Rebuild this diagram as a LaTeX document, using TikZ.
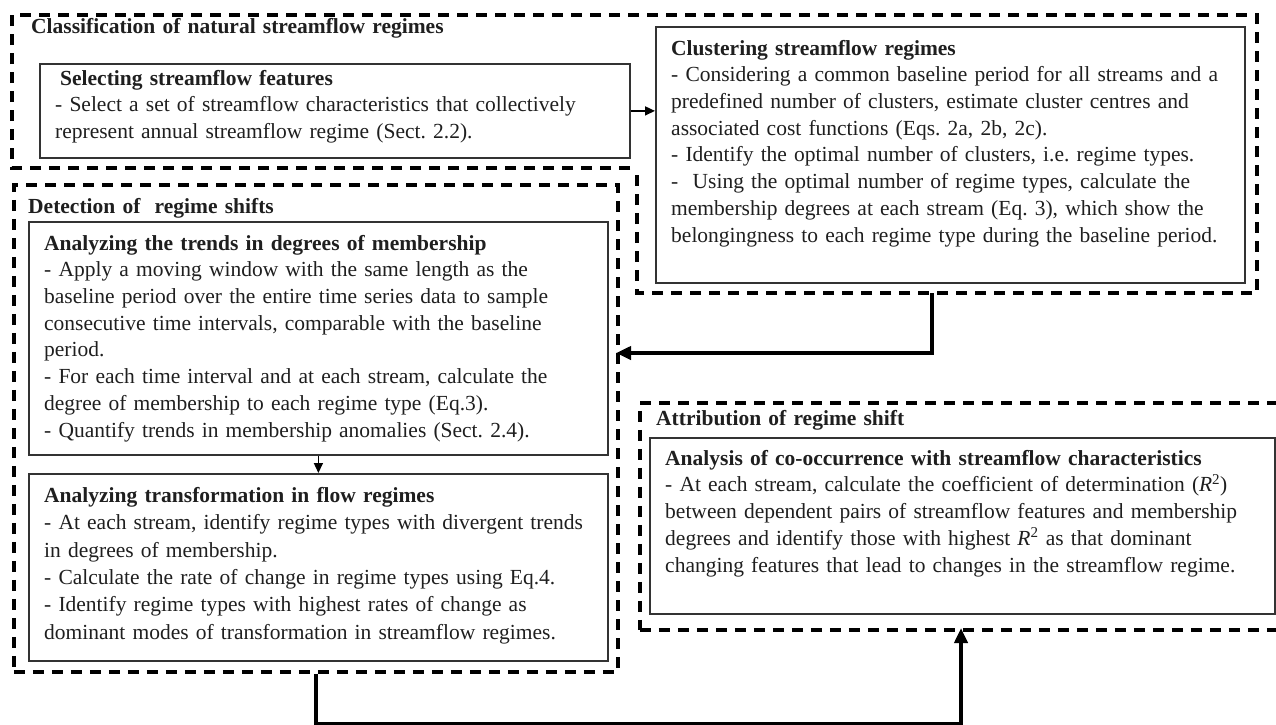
\documentclass[tikz,border=0pt]{standalone}
\usepackage{fontspec}
\setmainfont{Liberation Serif}
\usetikzlibrary{arrows.meta}
\begin{document}
\begin{tikzpicture}[x=1pt,y=-1pt,
  container/.style={draw=black, line width=3.5pt, dash pattern=on 11pt off 8pt},
  stepbox/.style={draw=black!80, line width=1.8pt, rectangle, inner sep=0pt, anchor=north west},
  txt/.style={anchor=north west, inner sep=0pt, text width=640pt, align=left, text=black!88,
    font=\fontsize{21.5pt}{26.7pt}\selectfont\frenchspacing},
  txtb/.style={txt, font=\fontsize{21.5pt}{27.3pt}\selectfont\frenchspacing},
  thinarrow/.style={draw=black, line width=1.5pt, -{Triangle[length=10pt,width=9pt]}},
  thickarrow/.style={draw=black, line width=4pt, -{Triangle[length=15pt,width=13pt]}}
]
\path[clip] (0,0) rectangle (1276,724);
\fill[white] (0,0) rectangle (1276,724);

% dashed containers
\draw[container] (630,168) -- (12,168) -- (12,15) -- (1257,15) -- (1257,293) -- (637,293) -- (637,170);
\node[container, rectangle, inner sep=0pt, anchor=north west, minimum width=604pt, minimum height=487pt] (det) at (12,183) {};
\node[container, rectangle, inner sep=0pt, anchor=north west, minimum width=652pt, minimum height=227pt] (att) at (638,401) {};
\coordinate (cluB) at (932,293);
\coordinate (detIn) at (616,353);
\coordinate (attIn) at (961,628);

% inner boxes
\node[stepbox, minimum width=590pt, minimum height=94pt] (sel) at (39,63) {};
\node[stepbox, minimum width=589pt, minimum height=256pt] (clu) at (655,26) {};
\node[stepbox, minimum width=579pt, minimum height=233pt] (tre) at (28,221) {};
\node[stepbox, minimum width=579pt, minimum height=187pt] (tra) at (28,473) {};
\node[stepbox, minimum width=625pt, minimum height=176pt] (coo) at (649,437) {};

% titles
\node[txt] (tcla) at (31,14.3) {\strut\textbf{Classification of natural streamflow regimes}};
\node[txt] (tdet) at (28,194.3) {\strut\textbf{Detection of\ \ regime shifts}};
\node[txt] (tatt) at (656,406.3) {\strut\textbf{Attribution of regime shift}};

% box texts
\node[txt] (xsel) at (55,66.3) {\strut\hspace{5pt}\textbf{Selecting streamflow features}\\
- Select a set of streamflow characteristics that collectively\\
represent annual streamflow regime (Sect. 2.2).};

\node[txt] (xclu) at (671,36.3) {\strut\textbf{Clustering streamflow regimes}\\
- Considering a common baseline period for all streams and a\\
predefined number of clusters, estimate cluster centres and\\
associated cost functions (Eqs. 2a, 2b, 2c).\\
- Identify the optimal number of clusters, i.e. regime types.\\
-\ \ Using the optimal number of regime types, calculate the\\
membership degrees at each stream (Eq. 3), which show the\\
belongingness to each regime type during the baseline period.};

\node[txt] (xtre) at (44,231.3) {\strut\textbf{Analyzing the trends in degrees of membership}\\
- Apply a moving window with the same length as the\\
baseline period over the entire time series data to sample\\
consecutive time intervals, comparable with the baseline\\
period.\\
- For each time interval and at each stream, calculate the\\
degree of membership to each regime type (Eq.3).\\
- Quantify trends in membership anomalies (Sect. 2.4).};

\node[txtb] (xtra) at (44,483.3) {\strut\textbf{Analyzing transformation in flow regimes}\\
- At each stream, identify regime types with divergent trends\\
in degrees of membership.\\
- Calculate the rate of change in regime types using Eq.4.\\
- Identify regime types with highest rates of change as\\
dominant modes of transformation in streamflow regimes.};

\node[txt] (xcoo) at (665,446.3) {\strut\textbf{Analysis of co-occurrence with streamflow characteristics}\\
- At each stream, calculate the coefficient of determination (\textit{R}\textsuperscript{2})\\
between dependent pairs of streamflow features and membership\\
degrees and identify those with highest \textit{R}\textsuperscript{2} as that dominant\\
changing features that lead to changes in the streamflow regime.};

% connectors
\draw[thinarrow] (sel.east) -- (sel.east -| clu.west);
\draw[thickarrow] (cluB) |- (detIn);
\draw[thinarrow] (tre.south) -- (tra.north);
\draw[thickarrow] (det.south) -- ++(0,50) -| (attIn);
\end{tikzpicture}
\end{document}
